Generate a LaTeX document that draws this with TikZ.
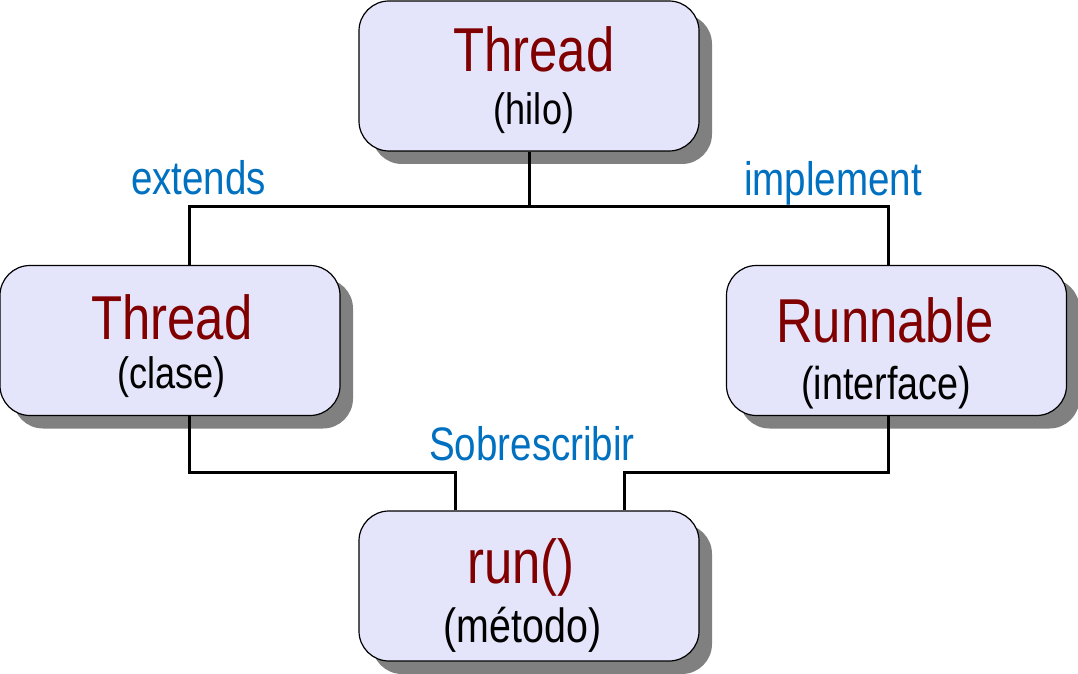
\documentclass[tikz,border=0pt]{standalone}
\usepackage{fontspec}
\setmainfont{Liberation Sans}[FakeStretch=0.82]
\usepackage{tikz}
\usetikzlibrary{shadows,positioning}
\definecolor{boxfill}{RGB}{228,228,250}
\definecolor{titlered}{RGB}{128,0,0}
\definecolor{relblue}{RGB}{0,112,192}
\definecolor{shadowgray}{RGB}{128,128,128}

\begin{document}
\begin{tikzpicture}[
        x=0.5pt,y=-0.5pt,
        box/.style={draw,rectangle,rounded corners=15pt,fill=boxfill,
                    line width=0.6pt,inner sep=0pt,
                    minimum width=170pt,minimum height=75pt,
                    drop shadow={shadow xshift=6.5pt,shadow yshift=-6.5pt,
                                 fill=shadowgray,opacity=1}},
        title/.style={anchor=base,text=titlered,
                      font=\fontsize{31}{36}\selectfont},
        note/.style={anchor=base,text=black,
                     font=\fontsize{22}{26}\selectfont},
        relname/.style={anchor=base,text=relblue,
                        font=\fontsize{23.5}{28}\selectfont},
        wire/.style={draw,line width=1.5pt}
      ]
        \useasboundingbox (0,0) rectangle (1078,674);
        % boxes
        \node[box] (hilo) at (529,76){};
        \node[box] (clase) at (170,340.5){};
        \node[box] (iface) at (896.5,340.5){};
        \node[box] (metodo) at (529,586){};
        % texts
        \node[title] (hilot) at (534,72){Thread};
        \node[note] (hilos) at (534,125){(hilo)};
        \node[title] (claset) at (172,340){Thread};
        \node[note] (clases) at (171.5,388){(clase)};
        \node[title] (ifacet) at (885,343){Runnable};
        \node[note,font=\fontsize{23}{28}\selectfont] (ifaces)
          at (886,400){(interface)};
        \node[title] (metodot) at (521,583){run()};
        \node[note,font=\fontsize{24}{28}\selectfont] (metodos)
          at (522.5,642){(método)};
        % bends
        \coordinate (jl) at (189,207);
        \coordinate (jr) at (888,207);
        \coordinate (bl) at (189,472);
        \coordinate (br) at (888,472);
        \coordinate (ml) at (455,472);
        \coordinate (mr) at (624,472);
        \draw[wire] (hilo.south) -- (hilo.south |- jl);
        \draw[wire] (jl |- clase.north) -- (jl) -- (jr) -- (jr |- iface.north);
        \draw[wire] (bl |- clase.south) -- (bl) -- (ml) -- (ml |- metodo.north);
        \draw[wire] (br |- iface.south) -- (br) -- (mr) -- (mr |- metodo.north);
        \node[relname] (ext) at (198.5,195){extends};
        \node[relname] (impl) at (833,196){implement};
        \node[relname] (sobre) at (532,460){Sobrescribir};
      \end{tikzpicture}
\end{document}
